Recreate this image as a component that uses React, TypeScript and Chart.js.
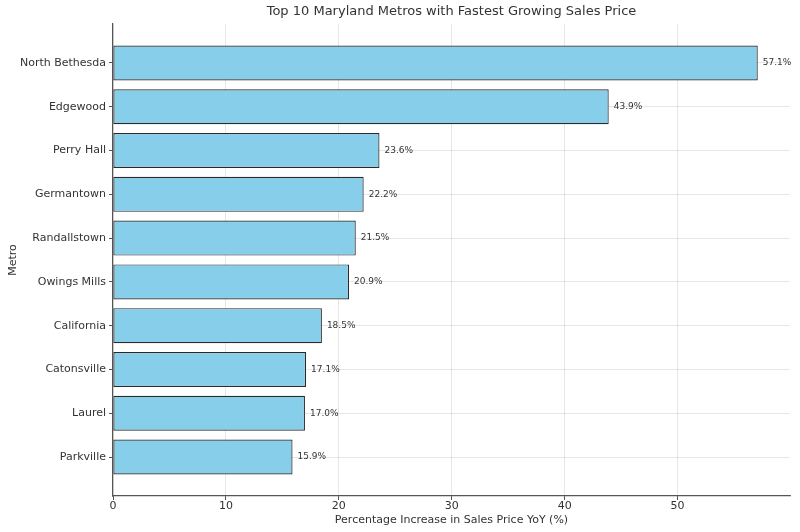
import React, { useEffect, useRef } from "react";
import { Chart, registerables } from "chart.js";

Chart.register(...registerables);

const metros = [
  "North Bethesda",
  "Edgewood",
  "Perry Hall",
  "Germantown",
  "Randallstown",
  "Owings Mills",
  "California",
  "Catonsville",
  "Laurel",
  "Parkville",
];
const growth = [57.1, 43.9, 23.6, 22.2, 21.5, 20.9, 18.5, 17.1, 17.0, 15.9];
const xTicks = [0, 10, 20, 30, 40, 50];
const chartTitle = "Top 10 Maryland Metros with Fastest Growing Sales Price";

const TEXT = "#333333";
const FONT = "'DejaVu Sans', sans-serif";

const valueLabels = {
  id: "valueLabels",
  afterDraw(chart: any) {
    const ctx = chart.ctx;
    const meta = chart.getDatasetMeta(0);
    const area = chart.chartArea;
    ctx.save();
    ctx.font = `9px ${FONT}`;
    ctx.fillStyle = TEXT;
    ctx.textAlign = "left";
    ctx.textBaseline = "middle";
    meta.data.forEach((bar: any, i: number) => {
      ctx.fillText(growth[i].toFixed(1) + "%", bar.x + 5, bar.y);
    });
    ctx.font = `13px ${FONT}`;
    ctx.textAlign = "center";
    ctx.fillText(chartTitle, (area.left + area.right) / 2, 12);
    ctx.restore();
  },
};

export default function App() {
  const ref = useRef<HTMLCanvasElement>(null);
  useEffect(() => {
    document.body.style.margin = "0";
    const n = metros.length;
    const gridOpts = {
      color: "rgba(0,0,0,0.14)",
      borderDash: [2, 2],
      lineWidth: 0.7,
      offset: false,
      drawTicks: true,
      tickLength: 4,
      tickColor: "#555",
      tickWidth: 1,
      tickBorderDash: [],
    } as any;
    const chart = new Chart(ref.current!, {
      type: "bar",
      data: {
        datasets: [
          {
            data: growth.map((v, i) => ({ x: v, y: i })),
            backgroundColor: "#87CEEB",
            borderColor: "#2a2a2a",
            borderWidth: 1.2,
            borderSkipped: false,
            barPercentage: 0.8,
            categoryPercentage: 1,
          },
        ],
      },
      options: {
        animation: false,
        responsive: true,
        maintainAspectRatio: false,
        indexAxis: "y",
        layout: { padding: { left: 0, right: 10, top: 24, bottom: 0 } },
        plugins: {
          legend: { display: false },
          tooltip: { enabled: false },
          title: { display: false },
        },
        scales: {
          x: {
            type: "linear",
            min: 0,
            max: 59.955,
            offset: false,
            z: 1,
            afterBuildTicks: (s: any) => {
              s.ticks = xTicks.map((v) => ({ value: v }));
            },
            afterFit: (s: any) => {
              s.height = 36;
            },
            grid: gridOpts,
            border: { display: true, color: "#555", width: 1.2 },
            ticks: {
              color: TEXT,
              font: { family: FONT, size: 11 },
              padding: 0,
              callback: (v: any) => String(v),
            },
            title: {
              display: true,
              text: "Percentage Increase in Sales Price YoY (%)",
              color: TEXT,
              font: { family: FONT, size: 11 },
              padding: { top: 0, bottom: 5 },
            },
          },
          y: {
            type: "linear",
            reverse: true,
            offset: false,
            z: 1,
            min: -0.89,
            max: n - 1 + 0.89,
            afterBuildTicks: (s: any) => {
              s.ticks = metros.map((_, i) => ({ value: i }));
            },
            afterFit: (s: any) => {
              s.width = 113;
            },
            grid: gridOpts,
            border: { display: true, color: "#555", width: 1.2 },
            ticks: {
              color: TEXT,
              font: { family: FONT, size: 11 },
              padding: 3,
              autoSkip: false,
              callback: (v: any) => metros[Math.round(v)] ?? "",
            },
            title: {
              display: true,
              text: "Metro",
              color: TEXT,
              font: { family: FONT, size: 11 },
              padding: { top: 7, bottom: 0 },
            },
          },
        },
      },
      plugins: [valueLabels],
    } as any);
    return () => chart.destroy();
  }, []);
  return (
    <div style={{ width: 800, height: 532, position: "relative" }}>
      <canvas ref={ref} />
    </div>
  );
}
